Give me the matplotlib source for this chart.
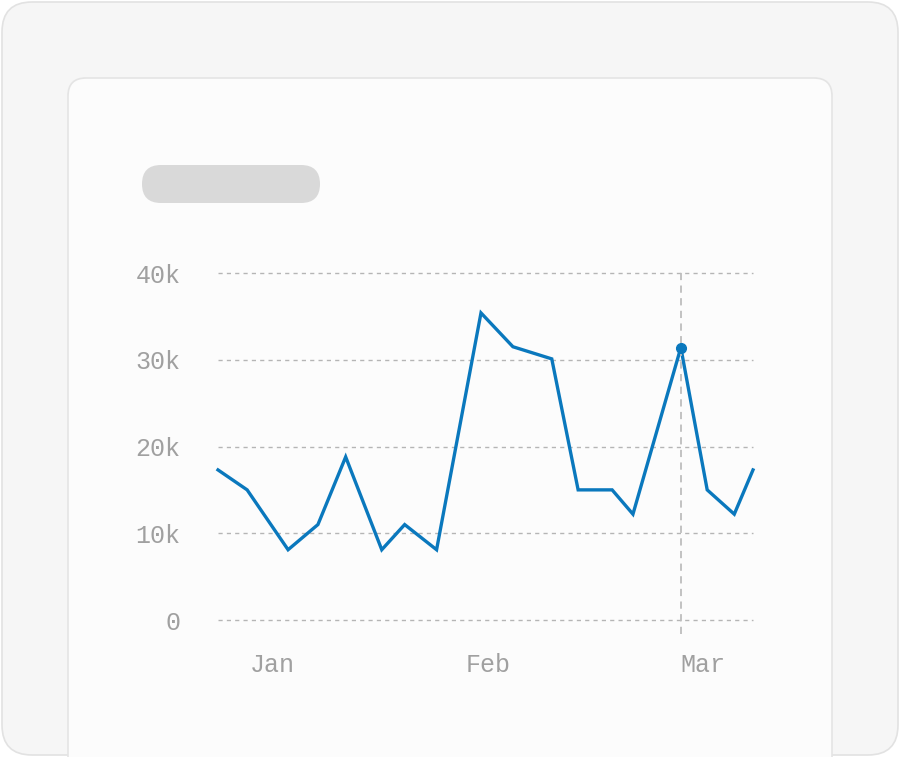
import matplotlib
matplotlib.use("Agg")
import matplotlib.pyplot as plt
from matplotlib.patches import FancyBboxPatch

days = [0.0, 4.2, 10.1, 14.4, 18.4, 23.6, 26.9, 31.5, 37.9, 42.5, 48.1, 51.9, 56.8, 59.8, 66.7, 70.5, 74.4, 77.1]
values = [17300, 15000, 8100, 11000, 18800, 8100, 11000, 8100, 35400, 31500, 30100, 15000, 15000, 12200, 31400, 15000, 12200, 17300]
month_labels = ["Jan", "Feb", "Mar"]
month_pos = [7.9, 38.9, 69.9]
y_ticks = [0, 10000, 20000, 30000, 40000]
y_labels = ["0", "10k", "20k", "30k", "40k"]
highlight = 14

W, H = 900, 757
fig = plt.figure(figsize=(9, 7.57), dpi=100)
fig.patch.set_facecolor("white")
bg = fig.add_axes([0, 0, 1, 1]); bg.set_xlim(0, W); bg.set_ylim(H, 0); bg.axis("off")
bg.add_patch(FancyBboxPatch((2, 2), W - 4, H - 4, boxstyle="round,pad=0,rounding_size=30",
                            fc="#f6f6f6", ec="#e2e2e2", lw=1.2))
bg.add_patch(FancyBboxPatch((68, 78), 764, 720, boxstyle="round,pad=0,rounding_size=18",
                            fc="#fcfcfc", ec="#e4e4e4", lw=1.2))
bg.add_patch(FancyBboxPatch((142, 165), 178, 38, boxstyle="round,pad=0,rounding_size=19",
                            fc="#d9d9d9", ec="none"))

ax = fig.add_axes([218 / W, 1 - 620 / H, 535 / W, 347 / H])
ax.set_facecolor("none")
ax.set_xlim(days[0], days[-1]); ax.set_ylim(0, 40000)
for s in ax.spines.values(): s.set_visible(False)
for t in y_ticks:
    ax.axhline(t, color="#b5b5b5", lw=1, ls=(0, (3, 3)), clip_on=False)
ax.plot(days, values, color="#0a78bd", lw=2.4, solid_joinstyle="miter", clip_on=False)
ax.axvline(days[highlight], ymin=-0.04, ymax=1.015, color="#bdbdbd", lw=1.3, ls=(0, (4, 3)), clip_on=False)
ax.plot(days[highlight], values[highlight], "o", color="#0a78bd", ms=7, clip_on=False)
ax.set_yticks(y_ticks); ax.set_yticklabels(y_labels)
ax.set_xticks(month_pos); ax.set_xticklabels(month_labels)
ax.tick_params(length=0, colors="#a0a0a0", labelsize=18)
ax.tick_params(axis="x", pad=24)
ax.tick_params(axis="y", pad=27)
for lab in ax.get_xticklabels() + ax.get_yticklabels():
    lab.set_family("Liberation Mono")
fig.savefig("out.png", dpi=100)
